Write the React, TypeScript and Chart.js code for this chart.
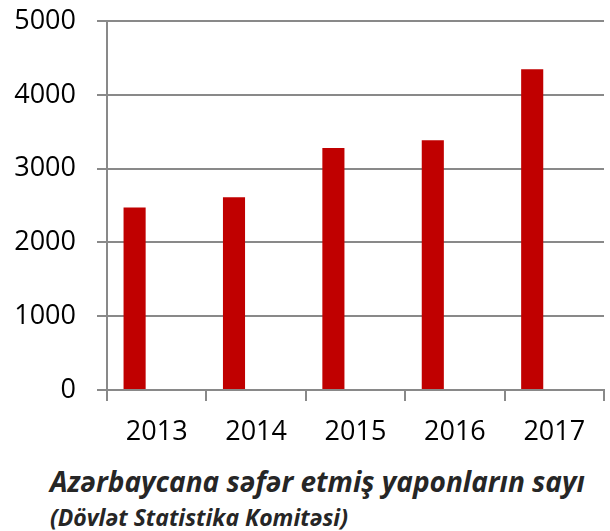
import React, { useEffect, useRef } from "react";
import { Chart, registerables } from "chart.js";

Chart.register(...registerables);

const categories = ["2013", "2014", "2015", "2016", "2017"];
const visitors = [2474, 2613, 3281, 3385, 4350];
const emptySeries = [null, null, null, null, null];
const yTicks = [0, 1000, 2000, 3000, 4000, 5000];
const titleLine1 = "Azərbaycana səfər etmiş yaponların sayı";
const titleLine2 = "(Dövlət Statistika Komitəsi)";

const GRID = "#898989";
const FONT = "'Open Sans', 'DejaVu Sans', sans-serif";

export default function App() {
  const canvasRef = useRef<HTMLCanvasElement | null>(null);

  useEffect(() => {
    if (!canvasRef.current) return;
    const chart = new Chart(canvasRef.current, {
      type: "bar",
      data: {
        labels: categories,
        datasets: [
          { data: visitors, backgroundColor: "#C00000", borderWidth: 0 },
          { data: emptySeries as any, backgroundColor: "#C00000" },
          { data: emptySeries as any, backgroundColor: "#C00000" },
        ],
      },
      options: {
        animation: false,
        responsive: true,
        maintainAspectRatio: false,
        datasets: { bar: { categoryPercentage: 0.667, barPercentage: 1 } },
        layout: { autoPadding: false, padding: { top: 4, right: 6, left: 0, bottom: 0 } },
        plugins: { legend: { display: false }, tooltip: { enabled: false }, title: { display: false } },
        scales: {
          x: {
            grid: { display: true, drawOnChartArea: false, drawTicks: true, tickLength: 11, color: GRID, lineWidth: 2, offset: true },
            border: { display: true, color: GRID, width: 2 },
            ticks: { color: "#000", font: { family: FONT, size: 27 }, padding: 15, maxRotation: 0 },
            afterFit: (scale: any) => { scale.height = 70; },
          },
          y: {
            min: 0,
            max: 5000,
            afterBuildTicks: (scale: any) => { scale.ticks = yTicks.map((v) => ({ value: v })); },
            grid: { color: GRID, lineWidth: 2, drawTicks: true, tickLength: 10 },
            border: { display: true, color: GRID, width: 2 },
            ticks: { color: "#000", font: { family: FONT, size: 27 }, padding: 21, callback: (v: any) => String(v) },
            afterFit: (scale: any) => { scale.width = 107; },
          },
        },
      },
    });
    return () => chart.destroy();
  }, []);

  return (
    <div style={{ position: "absolute", left: 0, top: 0, width: 610, height: 531, background: "#fff", overflow: "hidden" }}>
      <div style={{ position: "absolute", left: 0, top: -16, width: 610, height: 476 }}>
        <canvas ref={canvasRef} />
      </div>
      <div
        style={{
          position: "absolute", left: 50, top: 467, fontFamily: FONT, fontWeight: 700, fontStyle: "italic",
          fontSize: 28, lineHeight: "28px", color: "#262626", whiteSpace: "nowrap",
        }}
      >
        {titleLine1}
      </div>
      <div
        style={{
          position: "absolute", left: 50, top: 506, fontFamily: FONT, fontWeight: 700, fontStyle: "italic",
          fontSize: 23, lineHeight: "23px", color: "#262626", whiteSpace: "nowrap",
        }}
      >
        {titleLine2}
      </div>
    </div>
  );
}
